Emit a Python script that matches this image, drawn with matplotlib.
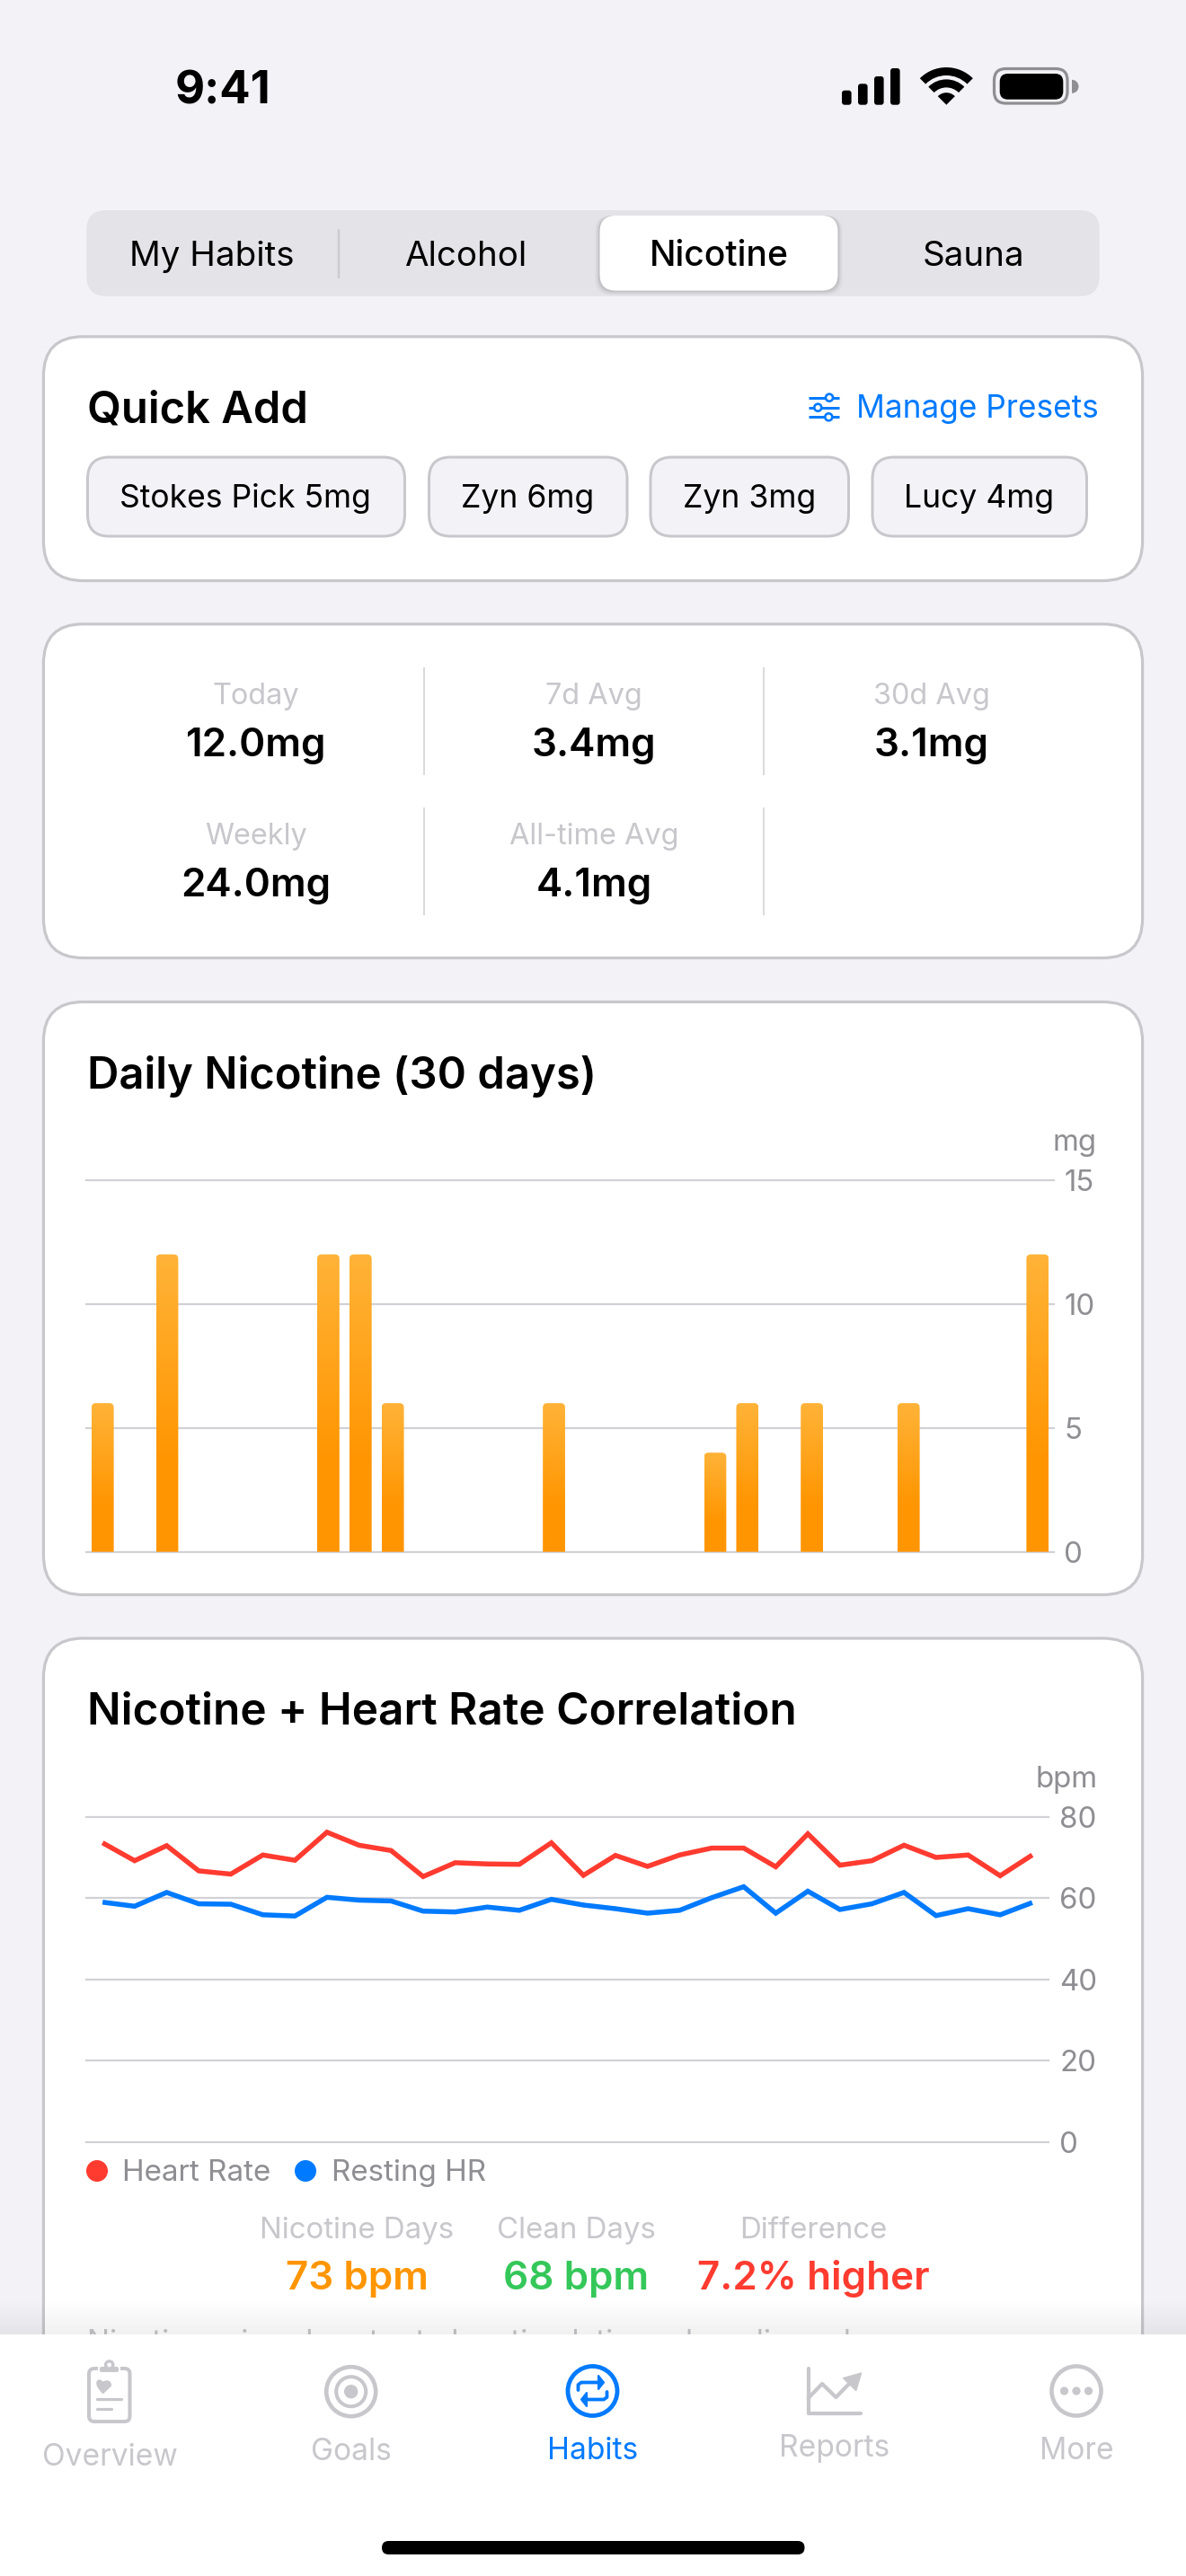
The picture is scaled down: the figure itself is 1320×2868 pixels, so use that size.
import numpy as np
import matplotlib
matplotlib.use("Agg")
import matplotlib.pyplot as plt
from matplotlib.patches import FancyBboxPatch, Circle, Wedge, Polygon, PathPatch
from matplotlib.path import Path

plt.rcParams['font.family'] = ['Inter', 'DejaVu Sans']

W, H = 1320, 2868

# chart data
days = list(range(30))
nicotine = [6, 0, 12, 0, 0, 0, 0, 12, 12, 6, 0, 0, 0, 0, 6, 0, 0, 0, 0, 4, 6, 0, 6, 0, 0, 6, 0, 0, 0, 12]
heart_rate = [73.6, 69.2, 72.9, 66.7, 65.9, 70.6, 69.3, 76.2, 73.0, 71.7,
              65.3, 68.7, 68.4, 68.3, 73.6, 65.6, 70.5, 67.8, 70.6, 72.3,
              72.3, 67.7, 75.8, 68.1, 69.2, 73.0, 70.0, 70.6, 65.5, 70.6]
resting_hr = [59.0, 58.0, 61.4, 58.6, 58.5, 55.9, 55.6, 60.2, 59.5, 59.3,
              56.8, 56.6, 57.8, 57.0, 59.7, 58.3, 57.4, 56.3, 57.0, 60.1,
              62.8, 56.3, 61.7, 57.2, 58.6, 61.4, 55.7, 57.4, 55.9, 58.9]
nic_ticks = [0, 5, 10, 15]
bpm_ticks = [0, 20, 40, 60, 80]

tabs = ["My Habits", "Alcohol", "Nicotine", "Sauna"]
presets = ["Stokes Pick 5mg", "Zyn 6mg", "Zyn 3mg", "Lucy 4mg"]
stat_labels = ["Today", "7d Avg", "30d Avg", "Weekly", "All-time Avg"]
stat_values = ["12.0mg", "3.4mg", "3.1mg", "24.0mg", "4.1mg"]
nav_items = ["Overview", "Goals", "Habits", "Reports", "More"]

BG = '#F2F2F7'
BORDER = '#C7C7CC'
GRID = '#D1D1D6'
MUTED = '#8E8E93'
BLUE = '#007AFF'
RED = '#FF3B30'
ORANGE = '#FF9500'
GREEN = '#34C759'
ICON = '#C7C7CC'


def pt(px):
    return px * 0.72


fig = plt.figure(figsize=(W / 100, H / 100), dpi=100, facecolor=BG)
ui = fig.add_axes([0, 0, 1, 1], zorder=1)
ui.set_xlim(0, W)
ui.set_ylim(H, 0)
ui.axis('off')


def txt(x, y, s, size, color='black', ha='center', weight='normal', zorder=3):
    ui.text(x, y, s, fontsize=pt(size), color=color, ha=ha, va='baseline', fontweight=weight, zorder=zorder)


def rbox(x0, y0, x1, y1, r, fc, ec='none', lw=0, zorder=2):
    p = FancyBboxPatch((x0 + r, y0 + r), x1 - x0 - 2 * r, y1 - y0 - 2 * r,
                       boxstyle=f"round,pad={r},rounding_size={r}",
                       fc=fc, ec=ec, lw=pt(lw), zorder=zorder)
    ui.add_patch(p)
    return p


def line(xs, ys, color, lw, zorder=4, cap='round'):
    ui.plot(xs, ys, color=color, lw=pt(lw), solid_capstyle=cap, solid_joinstyle='round', zorder=zorder)


def ring(cx, cy, r, lw, color, zorder=12):
    ui.add_patch(Circle((cx, cy), r, fc='none', ec=color, lw=pt(lw), zorder=zorder))


def dot(cx, cy, r, color, zorder=12):
    ui.add_patch(Circle((cx, cy), r, fc=color, ec='none', zorder=zorder))


# status bar
txt(248, 115.5, "9:41", 51, weight='bold')
for x0, top in zip([937, 955, 973, 991], [100.7, 93.3, 85, 76]):
    rbox(x0, top, x0 + 10.6, 116.7, 3, 'black')
for r0, r1 in [(0, 13.5), (19.3, 28.3), (32.7, 41.7)]:
    ui.add_patch(Wedge((1053.3, 116.7), r1, 225, 315, width=r1 - r0, fc='black', ec='none', zorder=3))
rbox(1106.5, 76.5, 1188, 115, 13, 'none', '#8E8E93', 3.2)
rbox(1112.7, 82, 1183.3, 110.7, 9, 'black')
ui.add_patch(Wedge((1193, 96.3), 7.5, -90, 90, fc='#8E8E93', ec='none', zorder=3))

# segmented control
rbox(96.3, 234, 1223.7, 329.7, 22, '#E3E3E8')
for off, a in [(5, 0.03), (3, 0.05), (1.5, 0.07)]:
    rbox(667.5 - off, 240, 932.5 + off, 323.6 + off, 18, (0, 0, 0, a), zorder=2)
rbox(667.5, 240, 932.5, 323.6, 18, 'white', zorder=3)
line([376.5, 376.5], [255.5, 308.5], '#CBCBD0', 2.5)
for x, s in zip([236, 518.5, 800, 1083.5], tabs):
    txt(x, 296, s, 39 if s == "Nicotine" else 38.5, weight='medium' if s == "Nicotine" else 'normal')

# quick add card
rbox(48.4, 374.8, 1271.6, 646.5, 44, 'white', BORDER, 3.2)
txt(97, 470.5, "Quick Add", 49, ha='left', weight='semibold')
for y, kx in zip([442.7, 453.7, 464.3], [923, 910.3, 922.3]):
    line([899.5, 934], [y, y], BLUE, 3, cap='butt')
    ui.add_patch(Circle((kx, y), 4, fc='white', ec=BLUE, lw=pt(2.6), zorder=5))
txt(1222.5, 465, "Manage Presets", 35.2, color=BLUE, ha='right')
chip_x = [(96.5, 451.5), (476.5, 699), (723, 945.5), (970, 1210.5)]
for (x0, x1), s, cx in zip(chip_x, presets, [273, 587, 834, 1089.5]):
    rbox(x0 + 1, 509, x1 - 1, 597, 24, BG, BORDER, 3)
    txt(cx, 565, s, 35.5)

# stats card
rbox(48.4, 694.8, 1271.6, 1066.5, 44, 'white', BORDER, 3.2)
for x in [472, 849.5]:
    for y0, y1 in [(743, 863), (899, 1019)]:
        line([x, x], [y0, y1], '#D6D6DA', 1.8, cap='butt')
stat_pos = [(285, 784, 842), (661, 784, 842), (1037, 784, 842), (285, 940, 998), (661, 940, 998)]
for (x, y0, y1), lab, val in zip(stat_pos, stat_labels, stat_values):
    txt(x, y0, lab, 32.5, color=ICON)
    txt(x, y1, val, 44, weight='semibold')

# daily nicotine card
rbox(48.4, 1115.5, 1271.6, 1775.5, 44, 'white', BORDER, 3.2)
txt(97, 1212, "Daily Nicotine (30 days)", 49, ha='left', weight='semibold')
txt(1221, 1281, "mg", 33, color=MUTED, ha='right')

# heart rate card, runs under the tab bar
rbox(48.4, 1824, 1271.6, 2760, 44, 'white', BORDER, 3.2)
txt(97, 1920, "Nicotine + Heart Rate Correlation", 49.5, ha='left', weight='semibold')
txt(1222, 1990, "bpm", 33, color=MUTED, ha='right')
dot(108, 2417, 12, RED, zorder=4)
txt(136, 2428, "Heart Rate", 33.2, color=MUTED, ha='left')
dot(340, 2417, 12, BLUE, zorder=4)
txt(369, 2428, "Resting HR", 33.2, color=MUTED, ha='left')
for x, lab, val, col in zip([397, 641, 905.5], ["Nicotine Days", "Clean Days", "Difference"],
                            ["73 bpm", "68 bpm", "7.2% higher"], [ORANGE, GREEN, RED]):
    txt(x, 2492, lab, 33, color=ICON)
    txt(x, 2549, val, 44, color=col, weight='semibold')
txt(97, 2618, "Nicotine raises heart rate by stimulating adrenaline release", 33.3, color='#C4C4C8', ha='left')

# fade above the tab bar
fade = np.zeros((64, 1, 4))
fade[:, :, 3] = np.linspace(0, 0.06, 64)[:, None]
ui.imshow(fade, extent=[0, W, 2599, 2560], aspect='auto', zorder=8)
ui.set_xlim(0, W)
ui.set_ylim(H, 0)

# tab bar
ui.add_patch(plt.Rectangle((0, 2599), W, H - 2599, fc='white', ec='none', zorder=9))
nav_x = [122, 391, 660, 928.5, 1198]
nav_y = [2745, 2739, 2738, 2735, 2738]
for x, y, s in zip(nav_x, nav_y, nav_items):
    txt(x, y, s, 33.5, color=BLUE if s == "Habits" else ICON, zorder=12)

# overview icon
rbox(99, 2637, 144.5, 2696, 6, 'none', ICON, 4, zorder=12)
rbox(110, 2634, 133, 2642, 3, ICON, 'white', 2, zorder=12)
dot(121.7, 2633, 5.8, ICON, zorder=13)
dot(121.7, 2633, 2.4, 'white', zorder=14)
heart = Path([(114.7, 2664.5), (106, 2656), (106.5, 2650), (111.5, 2650), (114.7, 2652.5),
              (118, 2650), (123, 2650), (123.5, 2656), (114.7, 2664.5), (114.7, 2664.5)],
             [Path.MOVETO, Path.CURVE4, Path.CURVE4, Path.CURVE4, Path.LINETO,
              Path.CURVE4, Path.CURVE4, Path.CURVE4, Path.LINETO, Path.CLOSEPOLY])
ui.add_patch(PathPatch(heart, fc=ICON, ec=ICON, lw=1, zorder=12))
line([108, 135], [2671, 2671], ICON, 3.2, zorder=12)
line([108, 124], [2682, 2682], ICON, 3.2, zorder=12)

# goals icon
ring(390.7, 2662.7, 27.5, 4.6, ICON)
ring(390.7, 2662.7, 16.5, 4, ICON)
dot(390.7, 2662.7, 7.7, ICON)

# habits icon
ring(659.5, 2662, 27.5, 4.8, BLUE)
line([643.5, 643.5, 647, 668], [2661, 2655, 2652.5, 2652.5], BLUE, 3.8, zorder=12)
ui.add_patch(Polygon([(666, 2645), (672, 2652.5), (666, 2660)], fc=BLUE, ec=BLUE, lw=1.5, joinstyle='round', zorder=12))
line([675.5, 675.5, 672, 651], [2663, 2669, 2671.5, 2671.5], BLUE, 3.8, zorder=12)
ui.add_patch(Polygon([(653, 2664), (647, 2671.5), (653, 2679)], fc=BLUE, ec=BLUE, lw=1.5, joinstyle='round', zorder=12))

# reports icon
line([899.6, 899.6, 958], [2637, 2687, 2687], ICON, 4.2, zorder=12)
line([899.6, 915, 930.4, 947], [2670, 2654, 2669, 2652], ICON, 4.2, zorder=12)
ui.add_patch(Polygon([(958.6, 2642), (938.5, 2647.7), (952.8, 2661.5)], fc=ICON, ec=ICON, lw=1, joinstyle='round', zorder=12))

# more icon
ring(1198, 2662, 27.5, 4.6, ICON)
for dx in [-13.5, 0, 13.5]:
    dot(1198 + dx, 2662, 4.6, ICON)

# home indicator
rbox(425, 2829, 895.5, 2844, 7.5, 'black', zorder=12)


def px_axes(x0, y0, x1, y1):
    return fig.add_axes([x0 / W, 1 - y1 / H, (x1 - x0) / W, (y1 - y0) / H], zorder=5)


def style_axes(ax, ticks, top, labelpad):
    ax.patch.set_alpha(0)
    for s in ax.spines.values():
        s.set_visible(False)
    ax.set_xlim(-0.5, 29.5)
    ax.set_ylim(0, top)
    ax.set_xticks([])
    ax.set_yticks(ticks)
    ax.yaxis.tick_right()
    ax.tick_params(axis='y', length=0, pad=pt(labelpad), labelsize=pt(33), labelcolor=MUTED)
    ax.grid(axis='y', color=GRID, lw=pt(2.2), clip_on=False)
    ax.set_axisbelow(True)


# daily nicotine bars
ax1 = px_axes(96.3, 1313.8, 1172.7, 1727.7)
style_axes(ax1, nic_ticks, 15, 11.5)
bars = ax1.bar(days, nicotine, width=0.69, color=ORANGE, zorder=2)
top_col = np.array(matplotlib.colors.to_rgb('#FFB338'))
bot_col = np.array(matplotlib.colors.to_rgb(ORANGE))
mix = np.clip(np.linspace(0, 1, 100) / 0.7, 0, 1)[:, None, None]
grad = top_col[None, None, :] * (1 - mix) + bot_col[None, None, :] * mix
rx, ry = 5 / 35.88, 5 / 27.6
for b in bars:
    h = b.get_height()
    b.set_visible(False)
    if h == 0:
        continue
    x0, x1 = b.get_x(), b.get_x() + b.get_width()
    path = Path([(x0, 0), (x0, h - ry), (x0, h), (x0 + rx, h), (x1 - rx, h), (x1, h), (x1, h - ry), (x1, 0), (x0, 0)],
                [Path.MOVETO, Path.LINETO, Path.CURVE3, Path.CURVE3, Path.LINETO, Path.CURVE3, Path.CURVE3,
                 Path.LINETO, Path.CLOSEPOLY])
    clip = PathPatch(path, fc='none', ec='none', transform=ax1.transData)
    ax1.add_patch(clip)
    im = ax1.imshow(grad, extent=[x0, x1, 0, h], aspect='auto', origin='upper', zorder=2)
    im.set_clip_path(clip)
ax1.set_xlim(-0.5, 29.5)
ax1.set_ylim(0, 15)

# heart rate lines
ax2 = px_axes(96.3, 2022.7, 1166.7, 2385)
style_axes(ax2, bpm_ticks, 80, 12.5)
ax2.plot(days, heart_rate, color=RED, lw=pt(5.5), solid_joinstyle='miter', solid_capstyle='butt', zorder=3)
ax2.plot(days, resting_hr, color=BLUE, lw=pt(5.5), solid_joinstyle='miter', solid_capstyle='butt', zorder=3)

fig.savefig('out.png', dpi=100, facecolor=BG)
